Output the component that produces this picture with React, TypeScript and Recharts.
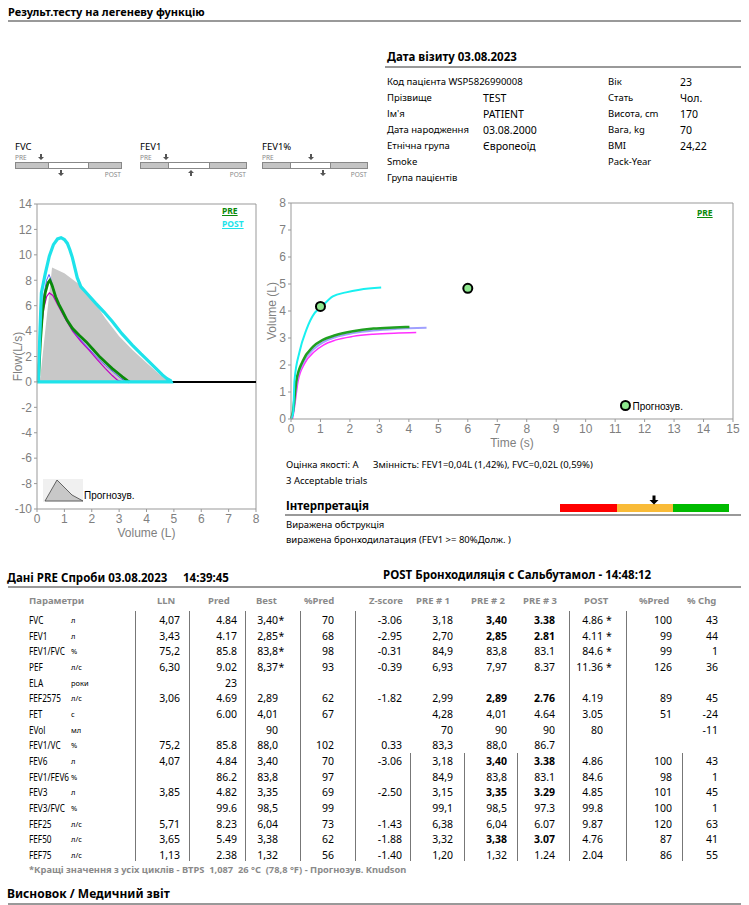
import React from "react";
import { ComposedChart, Line, Area, Scatter, XAxis, YAxis, ReferenceLine } from "recharts";

const FONT = "'Noto Sans', 'DejaVu Sans', sans-serif";
const AXIS_FONT = "'Liberation Sans', Arial, sans-serif";

// ---- flow / volume ----
const volumeTicks = [0, 1, 2, 3, 4, 5, 6, 7, 8];
const flowTicks = [-10, -8, -6, -4, -2, 0, 2, 4, 6, 8, 10, 12, 14];

const predFlow = [
  { v: 0.1, f: 0 }, { v: 0.55, f: 9.0 }, { v: 1.0, f: 8.55 }, { v: 1.5, f: 7.75 },
  { v: 2.0, f: 6.6 }, { v: 2.5, f: 5.0 }, { v: 3.0, f: 3.6 }, { v: 3.5, f: 2.5 },
  { v: 4.0, f: 1.5 }, { v: 4.5, f: 0.55 }, { v: 4.85, f: 0 },
];

const postFlow = [
  { v: 0.05, f: 0 }, { v: 0.1, f: 3.5 }, { v: 0.16, f: 7.0 }, { v: 0.3, f: 8.5 },
  { v: 0.45, f: 9.9 }, { v: 0.6, f: 10.8 }, { v: 0.75, f: 11.25 }, { v: 0.88, f: 11.35 },
  { v: 1.0, f: 11.2 }, { v: 1.11, f: 10.9 }, { v: 1.2, f: 10.4 }, { v: 1.29, f: 9.8 },
  { v: 1.47, f: 8.2 }, { v: 1.6, f: 7.5 }, { v: 1.85, f: 6.9 }, { v: 2.14, f: 6.2 },
  { v: 2.45, f: 5.5 }, { v: 2.75, f: 4.75 }, { v: 3.1, f: 3.8 }, { v: 3.48, f: 2.9 },
  { v: 3.8, f: 2.2 }, { v: 4.09, f: 1.6 }, { v: 4.35, f: 1.05 }, { v: 4.58, f: 0.55 },
  { v: 4.75, f: 0.25 }, { v: 4.88, f: 0.1 }, { v: 4.9, f: 0 }, { v: 0, f: 0 },
];

const preFlow = [
  { v: 0.05, f: 0 }, { v: 0.12, f: 3.0 }, { v: 0.2, f: 5.5 }, { v: 0.3, f: 7.0 },
  { v: 0.4, f: 7.8 }, { v: 0.47, f: 8.0 }, { v: 0.55, f: 7.6 }, { v: 0.68, f: 6.7 },
  { v: 0.8, f: 6.1 }, { v: 0.95, f: 5.5 }, { v: 1.1, f: 4.85 }, { v: 1.3, f: 4.2 },
  { v: 1.55, f: 3.65 }, { v: 1.8, f: 3.15 }, { v: 2.05, f: 2.55 }, { v: 2.3, f: 1.95 },
  { v: 2.55, f: 1.45 }, { v: 2.75, f: 1.05 }, { v: 2.95, f: 0.7 }, { v: 3.12, f: 0.4 },
  { v: 3.3, f: 0.1 }, { v: 3.38, f: 0 },
];

const trialBlueFlow = [
  { v: 0.05, f: 0 }, { v: 0.12, f: 3.5 }, { v: 0.22, f: 6.5 }, { v: 0.35, f: 8.0 },
  { v: 0.44, f: 8.45 }, { v: 0.52, f: 8.0 }, { v: 0.62, f: 7.1 }, { v: 0.8, f: 6.0 },
  { v: 1.0, f: 5.2 }, { v: 1.3, f: 4.05 }, { v: 1.6, f: 3.3 }, { v: 1.9, f: 2.6 },
  { v: 2.2, f: 1.9 }, { v: 2.5, f: 1.3 }, { v: 2.8, f: 0.75 }, { v: 3.05, f: 0.3 },
  { v: 3.25, f: 0 },
];

const trialMagentaFlow = [
  { v: 0.05, f: 0 }, { v: 0.15, f: 4.0 }, { v: 0.25, f: 5.8 }, { v: 0.35, f: 6.7 },
  { v: 0.45, f: 7.0 }, { v: 0.58, f: 6.8 }, { v: 0.75, f: 6.1 }, { v: 1.0, f: 5.1 },
  { v: 1.3, f: 4.0 }, { v: 1.6, f: 3.2 }, { v: 1.9, f: 2.5 }, { v: 2.2, f: 1.75 },
  { v: 2.5, f: 1.05 }, { v: 2.75, f: 0.5 }, { v: 2.95, f: 0.12 }, { v: 3.1, f: 0 },
];

// ---- volume / time ----
const timeTicks = [0, 1, 2, 3, 4, 5, 6, 7, 8, 9, 10, 11, 12, 13, 14, 15];
const vtVolumeTicks = [0, 1, 2, 3, 4, 5, 6, 7, 8];

const postVol = [
  { t: 0, vol: 0 }, { t: 0.07, vol: 0.2 }, { t: 0.12, vol: 1.44 }, { t: 0.29, vol: 2.49 },
  { t: 0.52, vol: 3.3 }, { t: 0.8, vol: 3.92 }, { t: 1.0, vol: 4.12 }, { t: 1.42, vol: 4.54 },
  { t: 1.87, vol: 4.69 }, { t: 2.33, vol: 4.79 }, { t: 3.06, vol: 4.87 },
];
const preVol = [
  { t: 0, vol: 0 }, { t: 0.07, vol: 0.3 }, { t: 0.18, vol: 1.4 }, { t: 0.4, vol: 2.15 },
  { t: 0.75, vol: 2.68 }, { t: 1.08, vol: 2.93 }, { t: 1.5, vol: 3.1 }, { t: 2.1, vol: 3.25 },
  { t: 2.8, vol: 3.35 }, { t: 3.5, vol: 3.39 }, { t: 4.02, vol: 3.41 },
];
const trialBlueVol = [
  { t: 0, vol: 0 }, { t: 0.08, vol: 0.3 }, { t: 0.2, vol: 1.4 }, { t: 0.42, vol: 2.1 },
  { t: 0.78, vol: 2.6 }, { t: 1.1, vol: 2.85 }, { t: 1.5, vol: 3.03 }, { t: 2.1, vol: 3.18 },
  { t: 2.8, vol: 3.28 }, { t: 3.6, vol: 3.34 }, { t: 4.6, vol: 3.38 },
];
const trialMagentaVol = [
  { t: 0.05, vol: 0 }, { t: 0.1, vol: 0.3 }, { t: 0.24, vol: 1.4 }, { t: 0.46, vol: 2.05 },
  { t: 0.8, vol: 2.5 }, { t: 1.1, vol: 2.74 }, { t: 1.5, vol: 2.92 }, { t: 2.1, vol: 3.06 },
  { t: 2.8, vol: 3.14 }, { t: 3.5, vol: 3.18 }, { t: 4.25, vol: 3.2 },
];
const predPoints = [{ t: 1, vol: 4.17 }, { t: 6, vol: 4.84 }];
const predLegendPoint = [{ t: 11.35, vol: 0.5, name: "Прогнозув." }];

// ---- patient ----
const infoLabels = ["Код пацієнта WSP5826990008", "Прізвище", "Ім'я", "Дата народження", "Етнічна група", "Smoke", "Група пацієнтів"];
const infoValues = ["", "TEST", "PATIENT", "03.08.2000", "Європеоїд", "", ""];
const sideLabels = ["Вік", "Стать", "Висота, cm", "Вага, kg", "BMI", "Pack-Year"];
const sideValues = ["23", "Чол.", "170", "70", "24,22", ""];

// ---- table ----
const params = ["FVC", "FEV1", "FEV1/FVC", "PEF", "ELA", "FEF2575", "FET", "EVol", "FEV1/VC", "FEV6", "FEV1/FEV6", "FEV3", "FEV3/FVC", "FEF25", "FEF50", "FEF75"];
const units = ["л", "л", "%", "л/с", "роки", "л/с", "с", "мл", "%", "л", "%", "л", "%", "л/с", "л/с", "л/с"];
const lln = ["4,07", "3,43", "75,2", "6,30", "", "3,06", "", "", "75,2", "4,07", "", "3,85", "", "5,71", "3,65", "1,13"];
const pred = ["4.84", "4.17", "85.8", "9.02", "23", "4.69", "6.00", "", "85.8", "4.84", "86.2", "4.82", "99.6", "8.23", "5.49", "2.38"];
const best = ["3,40", "2,85", "83,8", "8,37", "", "2,89", "4,01", "90", "88,0", "3,40", "83,8", "3,35", "98,5", "6,04", "3,38", "1,32"];
const bestStar = [true, true, true, true];
const pctPred = ["70", "68", "98", "93", "", "62", "67", "", "102", "70", "97", "69", "99", "73", "62", "56"];
const zScore = ["-3.06", "-2.95", "-0.31", "-0.39", "", "-1.82", "", "", "0.33", "-3.06", "", "-2.50", "", "-1.43", "-1.88", "-1.40"];
const pre1 = ["3,18", "2,70", "84,9", "6,93", "", "2,99", "4,28", "70", "83,3", "3,18", "84,9", "3,15", "99,1", "6,38", "3,32", "1,20"];
const pre2 = ["3,40", "2,85", "83,8", "7,97", "", "2,89", "4,01", "90", "88,0", "3,40", "83,8", "3,35", "98,5", "6,04", "3,38", "1,32"];
const pre3 = ["3.38", "2.81", "83.1", "8.37", "", "2.76", "4.64", "90", "86.7", "3.38", "83.1", "3.29", "97.3", "6.07", "3.07", "1.24"];
const post = ["4.86", "4.11", "84.6", "11.36", "", "4.19", "3.05", "80", "", "4.86", "84.6", "4.85", "99.8", "9.87", "4.76", "2.04"];
const postStar = [true, true, true, true];
const postPct = ["100", "99", "99", "126", "", "89", "51", "", "", "100", "98", "101", "100", "120", "87", "86"];
const chg = ["43", "44", "1", "36", "", "45", "-24", "-11", "", "43", "1", "45", "1", "63", "41", "55"];
const boldRows = [0, 1, 5, 9, 11, 14];

const headers = [
  { t: "Параметри", x: 29 }, { t: "LLN", x: 157 }, { t: "Pred", x: 208 }, { t: "Best", x: 256 },
  { t: "%Pred", x: 304 }, { t: "Z-score", x: 369 }, { t: "PRE # 1", x: 416 }, { t: "PRE # 2", x: 471 },
  { t: "PRE # 3", x: 523 }, { t: "POST", x: 584 }, { t: "%Pred", x: 639 }, { t: "% Chg", x: 687 },
];

const Txt = ({ x, y, s = 10, b = false, c = "#000", right = false, children, style = {} }: any) => (
  <div
    style={{
      position: "absolute",
      top: y - 8,
      lineHeight: "16px",
      fontSize: s,
      fontWeight: b ? 700 : 400,
      color: c,
      whiteSpace: "nowrap",
      ...(right ? { right: 749 - x } : { left: x }),
      ...style,
    }}
  >
    {children}
  </div>
);

const HLine = ({ x1, x2, y, w = 2, c = "#999" }: any) => (
  <div style={{ position: "absolute", left: x1, top: y - w / 2, width: x2 - x1, height: w, background: c }} />
);

const downArrow = (cx: number, ty: number) => `M${cx - 1} ${ty} h2 v3 h2 l-3 3 l-3 -3 h2 z`;
const upArrow = (cx: number, by: number) => `M${cx - 1} ${by} h2 v-3 h2 l-3 -3 l-3 3 h2 z`;

const miniScales = [
  { label: "FVC", x0: 15, x1: 121, s1: 48, s2: 88, top: 41, bottom: 61, up: false },
  { label: "FEV1", x0: 140, x1: 246, s1: 168, s2: 209, top: 166, bottom: 191, up: true },
  { label: "FEV1%", x0: 262, x1: 367, s1: 290, s2: 330, top: 311, bottom: 323, up: false },
];

const PredDot = (props: any) => {
  const { cx, cy, payload } = props;
  return (
    <g>
      <circle cx={cx} cy={cy} r={4.5} fill="#8ee88e" stroke="#000" strokeWidth={2} />
      {payload && payload.name ? (
        <text x={cx + 7} y={cy + 4} fontSize={10} fontFamily={AXIS_FONT} fill="#000">
          {payload.name}
        </text>
      ) : null}
    </g>
  );
};

const tickStyle = { fill: "#7f7f7f", fontSize: 12, fontFamily: AXIS_FONT };

function FlowVolumeChart() {
  return (
    <div style={{ position: "absolute", left: 0, top: 195 }}>
      <ComposedChart width={262} height={345} margin={{ top: 9, right: 6, left: 7, bottom: 11 }}>
        <XAxis
          type="number"
          dataKey="v"
          domain={[0, 8]}
          ticks={volumeTicks}
          interval={0}
          height={20}
          tickSize={3}
          tickMargin={2}
          tick={tickStyle}
          axisLine={{ stroke: "#999" }}
          tickLine={{ stroke: "#999" }}
          label={{ value: "Volume (L)", position: "bottom", offset: -1, fill: "#7f7f7f", fontSize: 12, fontFamily: AXIS_FONT }}
        />
        <YAxis
          type="number"
          dataKey="f"
          domain={[-10, 14]}
          ticks={flowTicks}
          interval={0}
          width={30}
          tickSize={3}
          tickMargin={2}
          tick={tickStyle}
          axisLine={{ stroke: "#999" }}
          tickLine={{ stroke: "#999" }}
          label={{ value: "Flow(L/s)", angle: -90, position: "insideLeft", offset: 11, fill: "#7f7f7f", fontSize: 12, fontFamily: AXIS_FONT, style: { textAnchor: "middle" } }}
        />
        <ReferenceLine y={14} stroke="#999" />
        <ReferenceLine x={8} stroke="#999" />
        <Area data={predFlow} dataKey="f" type="linear" stroke="none" fill="#c8c8c8" fillOpacity={1} isAnimationActive={false} />
        <ReferenceLine y={0} stroke="#000" strokeWidth={2} />
        <Line data={trialMagentaFlow} dataKey="f" type="linear" stroke="#c000c0" strokeWidth={1.2} dot={false} isAnimationActive={false} />
        <Line data={trialBlueFlow} dataKey="f" type="linear" stroke="#5a5aff" strokeWidth={1} dot={false} isAnimationActive={false} />
        <Line data={preFlow} dataKey="f" type="linear" stroke="#0a8a0a" strokeWidth={2.8} dot={false} isAnimationActive={false} />
        <Line data={postFlow} dataKey="f" type="linear" stroke="#1ee3ea" strokeWidth={3.2} dot={false} isAnimationActive={false} />
      </ComposedChart>
      <div style={{ position: "absolute", left: 222, top: 10, fontSize: 8.5, fontWeight: 700, color: "#0a8a0a", textDecoration: "underline", fontFamily: FONT, lineHeight: "12px" }}>PRE</div>
      <div style={{ position: "absolute", left: 222, top: 23, fontSize: 8.5, fontWeight: 700, color: "#1ee3ea", textDecoration: "underline", fontFamily: FONT, lineHeight: "12px" }}>POST</div>
      <svg style={{ position: "absolute", left: 0, top: 0 }} width={262} height={345}>
        <rect x={43} y={284} width={40} height={23} fill="#f0f0f0" />
        <path d="M45 306 L57 285 L72 300 L83 306 Z" fill="#c8c8c8" stroke="#444" strokeWidth={0.8} />
        <text x={84} y={304} fontSize={10} fontFamily={AXIS_FONT} fill="#000">Прогнозув.</text>
      </svg>
    </div>
  );
}

function VolumeTimeChart() {
  return (
    <div style={{ position: "absolute", left: 260, top: 195 }}>
      <ComposedChart width={483} height={258} margin={{ top: 8, right: 10, left: 9, bottom: 16 }}>
        <XAxis
          type="number"
          dataKey="t"
          domain={[0, 15]}
          ticks={timeTicks}
          interval={0}
          height={18}
          tickSize={3}
          tickMargin={2}
          tick={tickStyle}
          axisLine={{ stroke: "#999" }}
          tickLine={{ stroke: "#999" }}
          label={{ value: "Time (s)", position: "bottom", offset: 1, fill: "#7f7f7f", fontSize: 12, fontFamily: AXIS_FONT }}
        />
        <YAxis
          type="number"
          dataKey="vol"
          domain={[0, 8]}
          ticks={vtVolumeTicks}
          interval={0}
          width={22}
          tickSize={3}
          tickMargin={2}
          tick={tickStyle}
          axisLine={{ stroke: "#999" }}
          tickLine={{ stroke: "#999" }}
          label={{ value: "Volume (L)", angle: -90, position: "insideLeft", offset: 3, fill: "#7f7f7f", fontSize: 12, fontFamily: AXIS_FONT, style: { textAnchor: "middle" } }}
        />
        <ReferenceLine y={8} stroke="#999" />
        <ReferenceLine x={15} stroke="#999" />
        <Line data={trialMagentaVol} dataKey="vol" type="monotone" stroke="#ff30ff" strokeWidth={1.5} dot={false} isAnimationActive={false} />
        <Line data={trialBlueVol} dataKey="vol" type="monotone" stroke="#a0a0ff" strokeWidth={2} dot={false} isAnimationActive={false} />
        <Line data={preVol} dataKey="vol" type="monotone" stroke="#20a020" strokeWidth={2.5} dot={false} isAnimationActive={false} />
        <Line data={postVol} dataKey="vol" type="monotone" stroke="#18f0f0" strokeWidth={2} dot={false} isAnimationActive={false} />
        <Scatter data={predPoints} dataKey="vol" shape={PredDot} isAnimationActive={false} />
        <Scatter data={predLegendPoint} dataKey="vol" shape={PredDot} isAnimationActive={false} />
      </ComposedChart>
      <div style={{ position: "absolute", left: 437, top: 12, fontSize: 8.5, fontWeight: 700, color: "#0a8a0a", textDecoration: "underline", fontFamily: FONT, lineHeight: "12px" }}>PRE</div>
    </div>
  );
}

const valueCols = [
  { data: lln, r: 180 }, { data: pred, r: 237 }, { data: best, r: 278, star: bestStar }, { data: pctPred, r: 334 },
  { data: zScore, r: 402 }, { data: pre1, r: 453 }, { data: pre2, r: 507, bold: true }, { data: pre3, r: 555, bold: true },
  { data: post, r: 603, star: postStar }, { data: postPct, r: 672 }, { data: chg, r: 718 },
];

function ResultsTable() {
  const rowY = (i: number) => 620 + i * 15.67;
  const fullSeps = [135, 189, 245, 300, 355, 569, 626];
  const partSeps = [410, 464, 517, 682];
  return (
    <>
      {headers.map((h) => (
        <Txt key={h.t + h.x} x={h.x} y={601} s={9.5} b c="#8a8a8a">{h.t}</Txt>
      ))}
      {fullSeps.map((x) => (
        <div key={x} style={{ position: "absolute", left: x, top: 611, width: 1, height: 250, background: "#777" }} />
      ))}
      {partSeps.map((x) => (
        <div key={x} style={{ position: "absolute", left: x, top: 753, width: 1, height: 108, background: "#777" }} />
      ))}
      {params.map((p, i) => (
        <React.Fragment key={p}>
          <Txt x={29} y={rowY(i)} s={10.3} style={{ transform: "scaleX(0.8)", transformOrigin: "left center" }}>{p}</Txt>
          <Txt x={71} y={rowY(i)} s={7.5}>{units[i]}</Txt>
          {valueCols.map((col, ci) => (
            <React.Fragment key={ci}>
              <Txt x={col.r} y={rowY(i)} s={10.5} right b={col.bold && boldRows.includes(i)}>{col.data[i]}</Txt>
              {col.star && col.star[i] ? (
                <Txt x={col.r + (ci === 2 ? 0.5 : 3)} y={rowY(i)} s={10.5}>*</Txt>
              ) : null}
            </React.Fragment>
          ))}
        </React.Fragment>
      ))}
    </>
  );
}

export default function App() {
  return (
    <div style={{ position: "absolute", left: 0, top: 0, width: 749, height: 905, background: "#fff", overflow: "hidden", fontFamily: FONT, color: "#000" }}>
      <Txt x={8} y={12} s={11} b>Результ.тесту на легеневу функцію</Txt>
      <HLine x1={8} x2={741} y={21} />

      <Txt x={387} y={57} s={11.5} b>Дата візиту 03.08.2023</Txt>
      <HLine x1={385} x2={741} y={67} />
      {infoLabels.map((l, i) => (
        <React.Fragment key={l}>
          <Txt x={387} y={82 + i * 16} s={9.5}>{l}</Txt>
          <Txt x={483} y={82 + i * 16} s={10.5}>{infoValues[i]}</Txt>
        </React.Fragment>
      ))}
      {sideLabels.map((l, i) => (
        <React.Fragment key={l}>
          <Txt x={608} y={82 + i * 16} s={9.5}>{l}</Txt>
          <Txt x={680} y={82 + i * 16} s={10.5}>{sideValues[i]}</Txt>
        </React.Fragment>
      ))}

      {miniScales.map((m) => (
        <React.Fragment key={m.label}>
          <Txt x={m.x0} y={147} s={9.5}>{m.label}</Txt>
          <Txt x={m.x0} y={158} s={6.5} c="#888">PRE</Txt>
          <Txt x={m.x1} y={175} s={6.5} c="#888" right>POST</Txt>
        </React.Fragment>
      ))}
      <svg style={{ position: "absolute", left: 0, top: 0 }} width={380} height={190}>
        {miniScales.map((m) => (
          <g key={m.label}>
            <rect x={m.x0 + 0.5} y={162.5} width={m.x1 - m.x0} height={6} fill="#c4c4c4" stroke="#888" />
            <rect x={m.s1 + 0.5} y={162.5} width={m.s2 - m.s1} height={6} fill="#fff" stroke="#888" />
            <path d={downArrow(m.top, 154)} fill="#555" />
            <path d={m.up ? upArrow(m.bottom, 176) : downArrow(m.bottom, 170)} fill="#555" />
          </g>
        ))}
      </svg>

      <FlowVolumeChart />
      <VolumeTimeChart />

      <Txt x={286} y={465} s={9.5}>Оцінка якості: A</Txt>
      <Txt x={373} y={465} s={9.5}>Змінність: FEV1=0,04L (1,42%), FVC=0,02L (0,59%)</Txt>
      <Txt x={286} y={481} s={9.5}>3 Acceptable trials</Txt>
      <Txt x={286} y={506} s={11.5} b>Інтерпретація</Txt>
      <div style={{ position: "absolute", left: 560, top: 504, width: 57, height: 8, background: "#f00" }} />
      <div style={{ position: "absolute", left: 617, top: 504, width: 56, height: 8, background: "#f9bb38" }} />
      <div style={{ position: "absolute", left: 673, top: 504, width: 56, height: 8, background: "#0b0" }} />
      <svg style={{ position: "absolute", left: 648, top: 495 }} width={12} height={10}>
        <path d={downArrow(6, 1)} fill="#000" transform="translate(-3 -1) scale(1.5)" />
      </svg>
      <HLine x1={285} x2={741} y={515} />
      <Txt x={286} y={525} s={9.5}>Виражена обструкція</Txt>
      <Txt x={286} y={540} s={9.5}>виражена бронходилатация (FEV1 &gt;= 80%Долж. )</Txt>

      <Txt x={7} y={578} s={11.5} b>Дані PRE Спроби 03.08.2023</Txt>
      <Txt x={183} y={578} s={11.5} b>14:39:45</Txt>
      <Txt x={383} y={575} s={11.5} b>POST Бронходиляція с Сальбутамол - 14:48:12</Txt>
      <HLine x1={8} x2={741} y={587} />
      <ResultsTable />
      <Txt x={29} y={870} s={9.3} b c="#8a8a8a">*Кращі значення з усіх циклів - BTPS&nbsp; 1,087&nbsp; 26 °C&nbsp; (78,8 °F) - Прогнозув. Knudson</Txt>
      <Txt x={7} y={894} s={12} b>Висновок / Медичний звіт</Txt>
      <HLine x1={8} x2={741} y={904} />
    </div>
  );
}
